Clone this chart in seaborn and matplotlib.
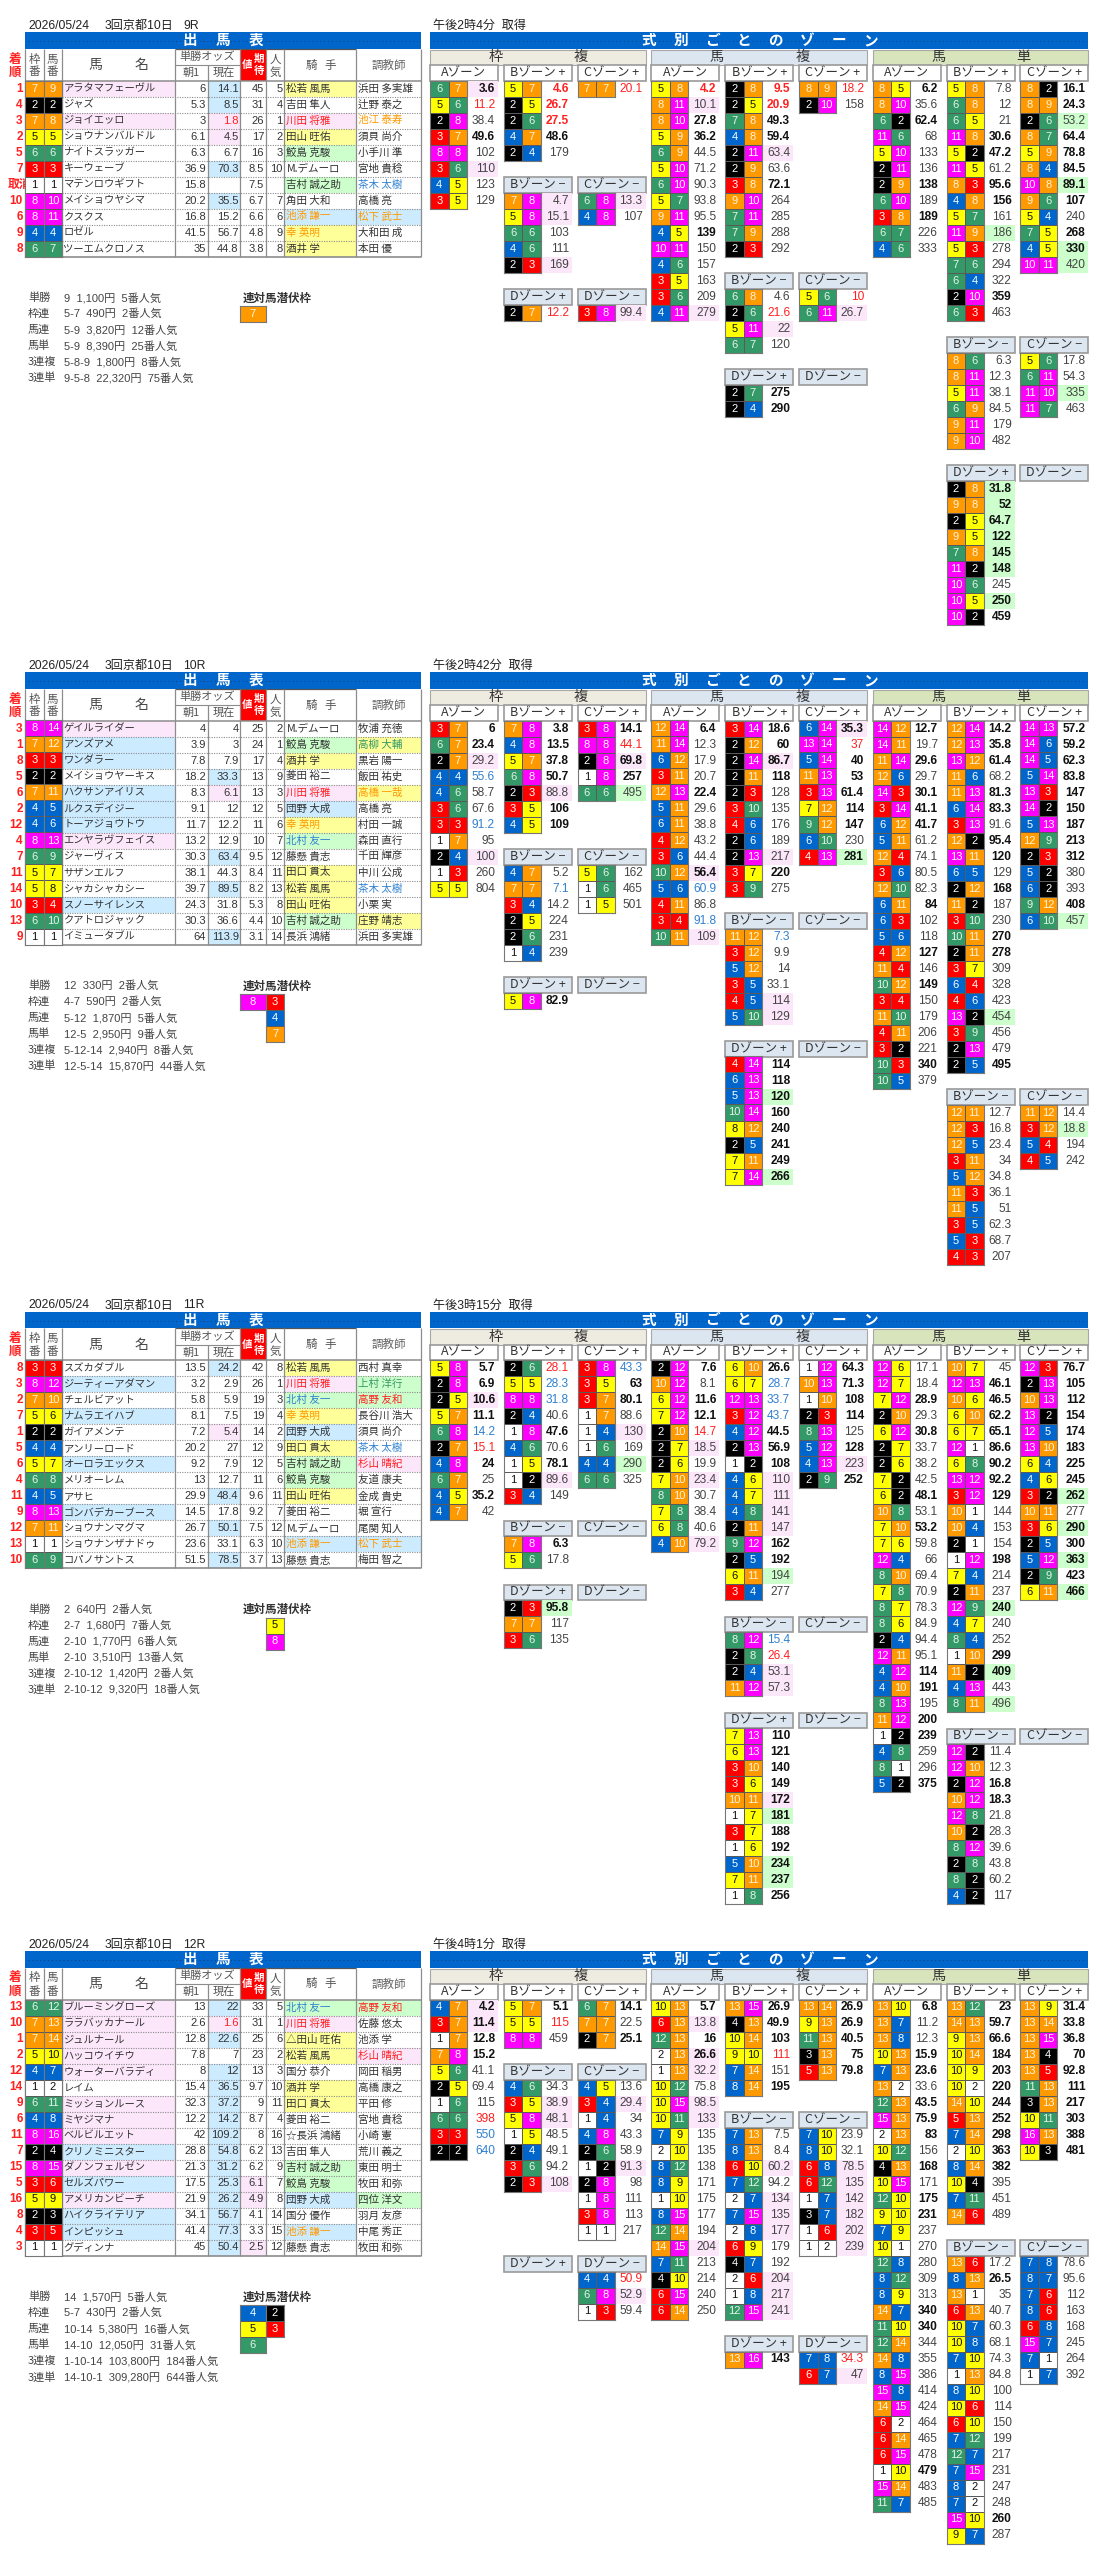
import numpy as np
import matplotlib
matplotlib.use("Agg")
import matplotlib.pyplot as plt
from matplotlib.colors import ListedColormap
from matplotlib.patches import Rectangle
import seaborn as sns

# ---- 9R ----
r9_title = ['2026/05/24', '3回京都10日', '9R']
r9_time = '午後2時4分  取得'
r9_finish = ['1', '4', '3', '2', '5', '7', '取消', '10', '6', '9', '8']
r9_gate = [7, 2, 7, 5, 6, 3, 1, 8, 8, 4, 6]
r9_horse = [9, 2, 8, 5, 6, 3, 1, 10, 11, 4, 7]
r9_name = ['アラタマフェーヴル', 'ジャズ', 'ジョイエッロ', 'ショウナンバルドル', 'ナイトスラッガー', 'キーウェーブ',
           'マテンロウギフト', 'メイショウヤシマ', 'クスクス', 'ロゼル', 'ツーエムクロノス']
r9_name_bg = 'p-p--------'
r9_morning = [6, 5.3, 3, 6.1, 6.3, 36.9, 15.8, 20.2, 16.8, 41.5, 35]
r9_now = [14.1, 8.5, 1.8, 4.5, 6.7, 70.3, '', 35.5, 15.2, 56.7, 44.8]
r9_now_bg = 'bbrp-b-b---'
r9_ev = [45, 31, 26, 17, 16, 8.5, 7.5, 6.7, 6.6, 4.8, 3.8]
r9_ev_bg = '-----------'
r9_pop = [5, 4, 1, 2, 3, 10, '', 7, 6, 9, 8]
r9_jockey = ['松若 風馬', '吉田 隼人', '川田 将雅', '田山 旺佑', '鮫島 克駿', 'M.デムーロ', '吉村 誠之助', '角田 大和', '池添 謙一', '幸 英明', '酒井 学']
r9_jockey_bg = 'y-pyg-g-byy'
r9_jockey_col = '--r-----oo-'
r9_trainer = ['浜田 多実雄', '辻野 泰之', '池江 泰寿', '須貝 尚介', '小手川 準', '宮地 貴稔', '茶木 太樹', '高橋 亮', '松下 武士', '大和田 成', '本田 優']
r9_trainer_bg = '--------b--'
r9_trainer_col = '--o---u-o--'
r9_results = [('単勝', '9  1,100円  5番人気'), ('枠連', '5-7  490円  2番人気'), ('馬連', '5-9  3,820円  12番人気'),
              ('馬単', '5-9  8,390円  25番人気'), ('3連複', '5-8-9  1,800円  8番人気'), ('3連単', '9-5-8  22,320円  75番人気')]
r9_hidden_left = [7]
r9_hidden_right = []

r9_w_a = [(6, 7, 3.6, 'bp'), (5, 6, 11.2, 'r'), (2, 8, 38.4), (3, 7, 49.6, 'b'), (8, 8, 102), (3, 6, 110, 'p'), (4, 5, 123), (3, 5, 129)]
r9_w_bp = [(5, 7, 4.6, 'br'), (2, 5, 26.7, 'br'), (2, 6, 27.5, 'br'), (4, 7, 48.6, 'b'), (2, 4, 179)]
r9_w_cp = [(7, 7, 20.1, 'r')]
r9_w_bm = [(7, 8, 4.7, 'p'), (5, 8, 15.1, 'p'), (6, 6, 103), (4, 6, 111), (2, 3, 169, 'p')]
r9_w_cm = [(6, 8, 13.3, 'p'), (4, 8, 107)]
r9_w_dp = [(2, 7, 12.2, 'r')]
r9_w_dm = [(3, 8, 99.4, 'p')]

r9_f_a = [(5, 8, 4.2, 'br'), (8, 11, 10.1, 'p'), (8, 10, 27.8, 'b'), (5, 9, 36.2, 'b'), (6, 9, 44.5), (5, 10, 71.2), (6, 10, 90.3), (5, 7, 93.8),
          (9, 11, 95.5), (4, 5, 139, 'b'), (10, 11, 150), (4, 6, 157), (3, 5, 163), (3, 6, 209), (4, 11, 279, 'p')]
r9_f_bp = [(2, 8, 9.5, 'br'), (2, 5, 20.9, 'br'), (7, 8, 49.3, 'b'), (4, 8, 59.4, 'b'), (2, 11, 63.4, 'p'), (2, 9, 63.6), (3, 8, 72.1, 'b'),
           (9, 10, 264), (7, 11, 285), (7, 9, 288), (2, 3, 292)]
r9_f_cp = [(8, 9, 18.2, 'r'), (2, 10, 158)]
r9_f_bm = [(6, 8, 4.6), (2, 6, 21.6, 'r'), (5, 11, 22, 'p'), (6, 7, 120)]
r9_f_cm = [(5, 6, 10, 'r'), (6, 11, 26.7, 'p')]
r9_f_dp = [(2, 7, 275, 'b'), (2, 4, 290, 'b')]
r9_f_dm = []

r9_t_a = [(8, 5, 6.2, 'b'), (8, 10, 35.6), (6, 2, 62.4, 'b'), (11, 6, 68), (5, 10, 133), (2, 11, 136), (2, 9, 138, 'b'), (6, 10, 189),
          (3, 8, 189, 'b'), (6, 7, 226), (4, 6, 333)]
r9_t_bp = [(5, 8, 7.8), (6, 8, 12), (6, 5, 21), (11, 8, 30.6, 'b'), (5, 2, 47.2, 'b'), (11, 5, 61.2), (8, 3, 95.6, 'b'), (4, 8, 156, 'b'),
           (5, 7, 161), (11, 9, 186, 'g'), (5, 3, 278), (7, 6, 294), (6, 4, 322), (2, 10, 359, 'b'), (6, 3, 463)]
r9_t_cp = [(8, 2, 16.1, 'b'), (8, 9, 24.3, 'b'), (2, 6, 53.2, 'g'), (8, 7, 64.4, 'b'), (5, 9, 78.8, 'b'), (8, 4, 84.5, 'b'), (10, 8, 89.1, 'gb'),
           (9, 6, 107, 'b'), (5, 4, 240), (7, 5, 268, 'b'), (4, 5, 330, 'gb'), (10, 11, 420, 'g')]
r9_t_bm = [(8, 6, 6.3), (8, 11, 12.3), (5, 11, 38.1), (6, 9, 84.5), (9, 11, 179), (9, 10, 482)]
r9_t_cm = [(5, 6, 17.8), (6, 11, 54.3), (11, 10, 335, 'g'), (11, 7, 463)]
r9_t_dp = [(2, 8, 31.8, 'gb'), (9, 8, 52, 'gb'), (2, 5, 64.7, 'gb'), (9, 5, 122, 'gb'), (7, 8, 145, 'gb'), (11, 2, 148, 'gb'), (10, 6, 245),
           (10, 5, 250, 'gb'), (10, 2, 459, 'b')]
r9_t_dm = []

# ---- 10R ----
r10_title = ['2026/05/24', '3回京都10日', '10R']
r10_time = '午後2時42分  取得'
r10_finish = ['3', '1', '8', '5', '6', '2', '12', '4', '7', '11', '14', '10', '13', '9']
r10_gate = [8, 7, 3, 2, 7, 4, 4, 8, 6, 5, 5, 3, 6, 1]
r10_horse = [14, 12, 3, 2, 11, 5, 6, 13, 9, 7, 8, 4, 10, 1]
r10_name = ['ゲイルライダー', 'アンズアメ', 'ワンダラー', 'メイショウヤーキス', 'ハクサンアイリス', 'ルクスデイジー', 'トーアジョウトウ',
            'エンヤラヴフェイス', 'ジャーヴィス', 'サザンエルフ', 'シャカシャカシー', 'スノーサイレンス', 'クアトロジャック', 'イミュータブル']
r10_name_bg = 'pbb-bbbp---b--'
r10_morning = [4, 3.9, 7.8, 18.2, 8.3, 9.1, 11.7, 13.2, 30.3, 38.1, 39.7, 24.3, 30.3, 64]
r10_now = [4, 3, 7.9, 33.3, 6.1, 12, 12.2, 12.9, 63.4, 44.3, 89.5, 31.8, 36.6, 113.9]
r10_now_bg = '---bp---b-b--b'
r10_ev = [25, 24, 17, 13, 13, 12, 11, 10, 9.5, 8.4, 8.2, 5.3, 4.4, 3.1]
r10_ev_bg = '--------------'
r10_pop = [2, 1, 4, 9, 3, 5, 6, 7, 12, 11, 13, 8, 10, 14]
r10_jockey = ['M.デムーロ', '鮫島 克駿', '酒井 学', '菱田 裕二', '川田 将雅', '団野 大成', '幸 英明', '北村 友一', '藤懸 貴志', '田口 貫太',
              '松若 風馬', '田山 旺佑', '吉村 誠之助', '長浜 鴻緒']
r10_jockey_bg = '-gy-pbyg-yyyg-'
r10_jockey_col = '----r-ou------'
r10_trainer = ['牧浦 充徳', '高柳 大輔', '黒岩 陽一', '飯田 祐史', '高橋 一哉', '高橋 亮', '村田 一誠', '森田 直行', '千田 輝彦', '中川 公成',
               '茶木 太樹', '小栗 実', '庄野 靖志', '浜田 多実雄']
r10_trainer_bg = '-y--y-------y-'
r10_trainer_col = '-g--o-----u---'
r10_results = [('単勝', '12  330円  2番人気'), ('枠連', '4-7  590円  2番人気'), ('馬連', '5-12  1,870円  5番人気'),
               ('馬単', '12-5  2,950円  9番人気'), ('3連複', '5-12-14  2,940円  8番人気'), ('3連単', '12-5-14  15,870円  44番人気')]
r10_hidden_left = [8]
r10_hidden_right = [3, 4, 7]

r10_w_a = [(3, 7, 6, 'b'), (6, 7, 23.4, 'b'), (2, 7, 29.2, 'p'), (4, 4, 55.6, 'u'), (4, 6, 58.7), (3, 6, 67.6), (3, 3, 91.2, 'u'), (1, 7, 95),
           (2, 4, 100, 'p'), (1, 3, 260), (5, 5, 804)]
r10_w_bp = [(7, 8, 3.8, 'b'), (4, 8, 13.5, 'b'), (5, 7, 37.8, 'b'), (6, 8, 50.7, 'b'), (2, 3, 88.8, 'p'), (3, 5, 106, 'b'), (4, 5, 109, 'b')]
r10_w_cp = [(3, 8, 14.1, 'b'), (8, 8, 44.1, 'r'), (2, 8, 69.8, 'pb'), (1, 8, 257, 'b'), (6, 6, 495, 'g')]
r10_w_bm = [(4, 7, 5.2), (7, 7, 7.1, 'u'), (3, 4, 14.2), (2, 5, 224), (2, 6, 231), (1, 4, 239)]
r10_w_cm = [(5, 6, 162), (1, 6, 465), (1, 5, 501)]
r10_w_dp = [(5, 8, 82.9, 'b')]
r10_w_dm = []

r10_f_a = [(12, 14, 6.4, 'b'), (11, 14, 12.3), (6, 12, 17.9), (3, 11, 20.7), (12, 13, 22.4, 'b'), (5, 11, 29.6), (6, 11, 38.8), (4, 12, 43.2),
           (3, 6, 44.4), (10, 12, 56.4, 'pb'), (5, 6, 60.9, 'u'), (4, 11, 86.8), (3, 4, 91.8, 'u'), (10, 11, 109, 'p')]
r10_f_bp = [(3, 14, 18.6, 'b'), (2, 12, 60, 'b'), (2, 14, 86.7, 'pb'), (2, 11, 118, 'b'), (2, 3, 128), (3, 10, 135), (4, 6, 176), (2, 6, 189),
            (2, 13, 217, 'p'), (3, 7, 220, 'b'), (3, 9, 275)]
r10_f_cp = [(6, 14, 35.3, 'pb'), (13, 14, 37, 'r'), (5, 14, 40, 'b'), (11, 13, 53, 'b'), (3, 13, 61.4, 'b'), (7, 12, 114, 'b'), (9, 12, 147, 'b'),
            (6, 10, 230), (4, 13, 281, 'gb')]
r10_f_bm = [(11, 12, 7.3, 'u'), (3, 12, 9.9), (5, 12, 14), (3, 5, 33.1), (4, 5, 114, 'p'), (5, 10, 129, 'p')]
r10_f_cm = []
r10_f_dp = [(4, 14, 114, 'b'), (6, 13, 118, 'b'), (5, 13, 120, 'gb'), (10, 14, 160, 'b'), (8, 12, 240, 'b'), (2, 5, 241, 'b'), (7, 11, 249, 'b'),
            (7, 14, 266, 'gb')]
r10_f_dm = []

r10_t_a = [(14, 12, 12.7, 'b'), (14, 11, 19.7), (11, 14, 29.6, 'b'), (12, 6, 29.7), (14, 3, 30.1, 'b'), (3, 14, 41.1, 'b'), (6, 12, 41.7, 'b'),
           (5, 11, 61.2), (12, 4, 74.1), (3, 6, 80.5), (12, 10, 82.3), (6, 11, 84, 'b'), (6, 3, 102), (5, 6, 118), (4, 12, 127, 'b'), (11, 4, 146),
           (10, 12, 149, 'b'), (3, 4, 150), (11, 10, 179), (4, 11, 206), (3, 2, 221), (10, 3, 340, 'b'), (10, 5, 379)]
r10_t_bp = [(12, 14, 14.2, 'b'), (12, 13, 35.8, 'b'), (13, 12, 61.4, 'b'), (11, 6, 68.2), (11, 13, 81.3, 'b'), (6, 14, 83.3, 'b'), (3, 13, 91.6),
            (12, 2, 95.4, 'b'), (13, 11, 120, 'b'), (6, 5, 129), (2, 12, 168, 'b'), (11, 2, 187), (3, 10, 230), (10, 11, 270, 'b'), (2, 11, 278, 'b'),
            (3, 7, 309), (6, 4, 328), (4, 6, 423), (13, 2, 454, 'g'), (3, 9, 456), (2, 13, 479), (2, 5, 495, 'b')]
r10_t_cp = [(14, 13, 57.2, 'b'), (14, 6, 59.2, 'b'), (14, 5, 62.3, 'b'), (5, 14, 83.8, 'b'), (13, 3, 147, 'b'), (14, 2, 150, 'b'), (5, 13, 187, 'b'),
            (12, 9, 213, 'b'), (2, 3, 312, 'b'), (5, 2, 380), (6, 2, 393), (9, 12, 408, 'b'), (6, 10, 457, 'g')]
r10_t_bm = [(12, 11, 12.7), (12, 3, 16.8), (12, 5, 23.4), (3, 11, 34), (5, 12, 34.8), (11, 3, 36.1), (11, 5, 51), (3, 5, 62.3), (5, 3, 68.7), (4, 3, 207)]
r10_t_cm = [(11, 12, 14.4), (3, 12, 18.8, 'g'), (5, 4, 194), (4, 5, 242)]
r10_t_dp = []
r10_t_dm = []

# ---- 11R ----
r11_title = ['2026/05/24', '3回京都10日', '11R']
r11_time = '午後3時15分  取得'
r11_finish = ['8', '3', '2', '7', '1', '5', '6', '4', '11', '9', '12', '13', '10']
r11_gate = [3, 8, 7, 5, 2, 4, 5, 6, 4, 8, 7, 1, 6]
r11_horse = [3, 12, 10, 6, 2, 4, 7, 8, 5, 13, 11, 1, 9]
r11_name = ['スズカダブル', 'ジーティーアダマン', 'チェルビアット', 'ナムラエイハブ', 'ガイアメンテ', 'アンリーロード', 'オーロラエックス',
            'メリオーレム', 'アサヒ', 'ゴンバデカーブース', 'ショウナンマグマ', 'ショウナンザナドゥ', 'コパノサントス']
r11_name_bg = '-b-b--b--b---'
r11_morning = [13.5, 3.2, 5.8, 8.1, 7.2, 20.2, 9.2, 13, 29.9, 14.5, 26.7, 23.6, 51.5]
r11_now = [24.2, 2.9, 5.9, 7.5, 5.4, 27, 7.9, 12.7, 48.4, 17.8, 50.1, 33.1, 78.5]
r11_now_bg = 'b---p---b-b-b'
r11_ev = [42, 26, 19, 19, 14, 12, 12, 11, 9.6, 9.2, 7.5, 6.3, 3.7]
r11_ev_bg = '-------------'
r11_pop = [8, 1, 3, 4, 2, 9, 5, 6, 11, 7, 12, 10, 13]
r11_jockey = ['松若 風馬', '川田 将雅', '北村 友一', '幸 英明', '団野 大成', '田口 貫太', '吉村 誠之助', '鮫島 克駿', '田山 旺佑', '菱田 裕二',
              'M.デムーロ', '池添 謙一', '藤懸 貴志']
r11_jockey_bg = 'ypgybyggy--b-'
r11_jockey_col = '-ruo-------o-'
r11_trainer = ['西村 真幸', '上村 洋行', '高野 友和', '長谷川 浩大', '須貝 尚介', '茶木 太樹', '杉山 晴紀', '友道 康夫', '金成 貴史', '堀 宣行',
               '尾関 知人', '松下 武士', '梅田 智之']
r11_trainer_bg = '-gg---p----b-'
r11_trainer_col = '-gr--ur----o-'
r11_results = [('単勝', '2  640円  2番人気'), ('枠連', '2-7  1,680円  7番人気'), ('馬連', '2-10  1,770円  6番人気'),
               ('馬単', '2-10  3,510円  13番人気'), ('3連複', '2-10-12  1,420円  2番人気'), ('3連単', '2-10-12  9,320円  18番人気')]
r11_hidden_left = []
r11_hidden_right = [5, 8]

r11_w_a = [(5, 8, 5.7, 'b'), (2, 8, 6.9, 'b'), (2, 5, 10.6, 'pb'), (5, 7, 11.1, 'b'), (6, 8, 14.2, 'u'), (2, 7, 15.1, 'r'), (4, 8, 24, 'b'), (6, 7, 25),
           (4, 5, 35.2, 'b'), (4, 7, 42)]
r11_w_bp = [(2, 6, 28.1, 'r'), (5, 5, 28.3, 'u'), (8, 8, 31.8, 'u'), (2, 4, 40.6), (1, 8, 47.6, 'b'), (4, 6, 70.6), (1, 5, 78.1, 'b'), (1, 2, 89.6, 'p'), (3, 4, 149)]
r11_w_cp = [(3, 8, 43.3, 'u'), (3, 5, 63, 'b'), (3, 7, 80.1, 'b'), (1, 7, 88.6), (1, 4, 130, 'p'), (1, 6, 169), (4, 4, 290, 'g'), (6, 6, 325)]
r11_w_bm = [(7, 8, 6.3, 'b'), (5, 6, 17.8)]
r11_w_cm = []
r11_w_dp = [(2, 3, 95.8, 'gb'), (7, 7, 117), (3, 6, 135)]
r11_w_dm = []

r11_f_a = [(2, 12, 7.6, 'b'), (10, 12, 8.1), (6, 12, 11.6, 'b'), (7, 12, 12.1, 'b'), (2, 10, 14.7, 'r'), (2, 7, 18.5, 'p'), (2, 6, 19.9), (7, 10, 23.4, 'p'),
           (8, 10, 30.7), (7, 8, 38.4), (6, 8, 40.6), (4, 10, 79.2, 'p')]
r11_f_bp = [(6, 10, 26.6, 'b'), (6, 7, 28.7, 'u'), (12, 13, 33.7, 'u'), (3, 12, 43.7, 'u'), (4, 12, 44.5, 'b'), (2, 13, 56.9, 'b'), (1, 2, 108, 'b'),
            (4, 6, 110, 'p'), (4, 7, 111, 'p'), (4, 8, 141, 'p'), (2, 11, 147, 'p'), (9, 12, 162, 'b'), (2, 5, 192, 'b'), (6, 11, 194, 'g'), (3, 4, 277)]
r11_f_cp = [(1, 12, 64.3, 'b'), (10, 13, 71.3, 'b'), (1, 10, 108, 'b'), (2, 3, 114, 'b'), (8, 13, 125), (5, 12, 128, 'b'), (4, 13, 223, 'p'), (2, 9, 252, 'b')]
r11_f_bm = [(8, 12, 15.4, 'u'), (2, 8, 26.4, 'r'), (2, 4, 53.1, 'p'), (11, 12, 57.3, 'p')]
r11_f_cm = []
r11_f_dp = [(7, 13, 110, 'b'), (6, 13, 121, 'b'), (3, 10, 140, 'b'), (3, 6, 149, 'b'), (10, 11, 172, 'pb'), (1, 7, 181, 'gb'), (3, 7, 188, 'b'), (1, 6, 192, 'b'),
            (5, 10, 234, 'gb'), (7, 11, 237, 'gb'), (1, 8, 256, 'b')]
r11_f_dm = []

r11_t_a = [(12, 6, 17.1), (12, 7, 18.4), (7, 12, 28.9, 'b'), (2, 10, 29.3), (6, 12, 30.8, 'b'), (2, 7, 33.7), (2, 6, 38.2), (7, 2, 42.5), (6, 2, 48.1, 'b'),
           (10, 8, 53.1), (7, 10, 53.2, 'b'), (7, 6, 59.8), (12, 4, 66), (8, 10, 69.4), (7, 8, 70.9), (8, 7, 78.3), (8, 6, 84.9), (2, 4, 94.4), (12, 11, 95.1),
           (4, 12, 114, 'b'), (4, 10, 191, 'b'), (8, 13, 195), (11, 12, 200, 'b'), (1, 2, 239, 'b'), (4, 8, 259), (8, 1, 296), (5, 2, 375, 'b')]
r11_t_bp = [(10, 7, 45), (12, 13, 46.1, 'b'), (10, 6, 46.5, 'b'), (6, 10, 62.2, 'b'), (6, 7, 65.1, 'b'), (12, 1, 86.6, 'b'), (6, 8, 90.2, 'b'), (13, 12, 92.2, 'b'),
            (3, 12, 129, 'b'), (10, 1, 144), (10, 4, 153), (2, 1, 154), (1, 12, 198, 'b'), (7, 4, 214), (2, 11, 237), (12, 9, 240, 'gb'), (4, 7, 240), (8, 4, 252),
            (1, 10, 299, 'b'), (11, 2, 409, 'gb'), (4, 13, 443), (8, 11, 496, 'g')]
r11_t_cp = [(12, 3, 76.7, 'b'), (2, 13, 105, 'b'), (10, 13, 112, 'b'), (13, 2, 154, 'b'), (12, 5, 174, 'b'), (13, 10, 183, 'b'), (6, 4, 225, 'b'), (4, 6, 245, 'b'),
            (3, 2, 262, 'gb'), (10, 11, 277), (3, 6, 290, 'gb'), (2, 5, 300, 'b'), (5, 12, 363, 'gb'), (2, 9, 423, 'b'), (6, 11, 466, 'gb')]
r11_t_bm = [(12, 2, 11.4), (12, 10, 12.3), (2, 12, 16.8, 'b'), (10, 12, 18.3, 'b'), (12, 8, 21.8), (10, 2, 28.3), (8, 12, 39.6), (2, 8, 43.8), (8, 2, 60.2), (4, 2, 117)]
r11_t_cm = []
r11_t_dp = []
r11_t_dm = []

# ---- 12R ----
r12_title = ['2026/05/24', '3回京都10日', '12R']
r12_time = '午後4時1分  取得'
r12_finish = ['13', '10', '1', '2', '12', '14', '9', '6', '11', '7', '15', '5', '16', '8', '4', '3']
r12_gate = [6, 7, 7, 5, 4, 1, 6, 4, 8, 2, 8, 3, 5, 2, 3, 1]
r12_horse = [12, 13, 14, 10, 7, 2, 11, 8, 16, 4, 15, 6, 9, 3, 5, 1]
r12_name = ['ブルーミングローズ', 'ララバッカナール', 'ジュルナール', 'ハッコウイチウ', 'ウォーターバラディ', 'レイム', 'ミッションルース', 'ミヤジマナ',
            'ベルビルエット', 'クリノミニスター', 'ダノンフェルゼン', 'セルズパワー', 'アメリカンビーチ', 'ハイクライテリア', 'インピッシュ', 'グディンナ']
r12_name_bg = 'ppppp-pppbpbpbb-'
r12_morning = [13, 2.6, 12.8, 7.8, 8, 15.4, 32.3, 12.2, 42, 28.8, 21.3, 17.5, 21.9, 34.1, 41.4, 45]
r12_now = [22, 1.6, 22.6, 7, 12, 36.5, 37.2, 14.2, 109.2, 54.8, 31.2, 25.3, 26.2, 56.7, 77.3, 50.4]
r12_now_bg = 'brb-bbbbbbbbbbbb'
r12_ev = [33, 31, 25, 23, 13, 9.7, 9, 8.7, 8, 6.2, 6.2, 6.1, 4.9, 4.1, 3.3, 2.5]
r12_ev_bg = '-----------pp--p'
r12_pop = [5, 1, 6, 2, 3, 10, 11, 4, 16, 13, 9, 7, 8, 14, 15, 12]
r12_jockey = ['北村 友一', '川田 将雅', '△田山 旺佑', '松若 風馬', '国分 恭介', '酒井 学', '田口 貫太', '菱田 裕二', '☆長浜 鴻緒', '吉田 隼人',
              '吉村 誠之助', '鮫島 克駿', '団野 大成', '国分 優作', '池添 謙一', '藤懸 貴志']
r12_jockey_bg = 'gpyy-yy---ggb-b-'
r12_jockey_col = 'ur------------o-'
r12_trainer = ['高野 友和', '佐藤 悠太', '池添 学', '杉山 晴紀', '岡田 稲男', '高橋 康之', '平田 修', '宮地 貴稔', '小崎 憲', '荒川 義之', '東田 明士',
               '牧田 和弥', '四位 洋文', '羽月 友彦', '中尾 秀正', '牧田 和弥']
r12_trainer_bg = 'g--p--------g---'
r12_trainer_col = 'r--r------------'
r12_results = [('単勝', '14  1,570円  5番人気'), ('枠連', '5-7  430円  2番人気'), ('馬連', '10-14  5,380円  16番人気'),
               ('馬単', '14-10  12,050円  31番人気'), ('3連複', '1-10-14  103,800円  184番人気'), ('3連単', '14-10-1  309,280円  644番人気')]
r12_hidden_left = [4, 5, 6]
r12_hidden_right = [2, 3]

r12_w_a = [(4, 7, 4.2, 'pb'), (3, 7, 11.4, 'pb'), (1, 7, 12.8, 'b'), (7, 8, 15.2, 'b'), (5, 6, 41.1), (2, 5, 69.4), (1, 6, 115), (6, 6, 398, 'r'), (3, 3, 550, 'u'), (2, 2, 640, 'u')]
r12_w_bp = [(5, 7, 5.1, 'b'), (5, 5, 115, 'r'), (8, 8, 459)]
r12_w_cp = [(6, 7, 14.1, 'b'), (7, 7, 22.5), (2, 7, 25.1, 'b')]
r12_w_bm = [(4, 6, 34.3), (3, 5, 38.9, 'p'), (5, 8, 48.1, 'p'), (1, 5, 48.5), (2, 4, 49.1), (3, 6, 94.2), (2, 3, 108, 'p')]
r12_w_cm = [(4, 5, 13.6), (3, 4, 29.4, 'p'), (1, 4, 34), (4, 8, 43.3), (2, 6, 58.9), (1, 2, 91.3, 'p'), (2, 8, 98), (1, 8, 111), (3, 8, 113), (1, 1, 217)]
r12_w_dp = []
r12_w_dm = [(4, 4, 50.9, 'r'), (6, 8, 52.9, 'p'), (1, 3, 59.4)]

r12_f_a = [(10, 13, 5.7, 'b'), (6, 13, 13.8, 'p'), (12, 13, 16, 'b'), (2, 13, 26.6, 'pb'), (1, 13, 32.2, 'p'), (10, 12, 75.8), (10, 15, 98.5, 'p'), (10, 11, 133, 'p'),
           (7, 9, 135), (2, 10, 135), (8, 12, 138), (8, 9, 171), (1, 10, 175), (8, 15, 177), (12, 14, 194), (14, 15, 204, 'p'), (7, 11, 213), (4, 10, 214), (6, 15, 240), (6, 14, 250)]
r12_f_bp = [(13, 15, 26.9, 'b'), (4, 13, 49.9, 'b'), (10, 14, 103, 'b'), (9, 10, 111, 'r'), (7, 14, 151), (8, 14, 195, 'b')]
r12_f_cp = [(13, 14, 26.9, 'b'), (9, 13, 26.9, 'b'), (11, 13, 40.5, 'b'), (3, 13, 75, 'b'), (5, 13, 79.8, 'b')]
r12_f_bm = [(7, 13, 7.5), (8, 13, 8.4), (6, 10, 60.2, 'p'), (7, 12, 94.2), (2, 7, 134, 'p'), (7, 15, 135, 'p'), (2, 8, 177, 'p'), (6, 9, 179), (4, 7, 192), (2, 6, 204, 'p'),
            (1, 8, 217, 'p'), (12, 15, 241, 'p')]
r12_f_cm = [(7, 10, 23.9), (8, 10, 32.1), (6, 8, 78.5, 'p'), (6, 12, 135, 'p'), (1, 7, 142, 'p'), (3, 7, 182, 'p'), (1, 6, 202, 'p'), (1, 2, 239, 'p')]
r12_f_dp = [(13, 16, 143, 'b')]
r12_f_dm = [(7, 8, 34.3, 'r'), (6, 7, 47, 'p')]

r12_t_a = [(13, 10, 6.8, 'b'), (13, 7, 11.2), (13, 8, 12.3), (10, 13, 15.9, 'b'), (7, 13, 23.6, 'b'), (13, 2, 33.6), (12, 13, 43.5, 'b'), (15, 13, 75.9, 'b'), (2, 13, 83, 'b'),
           (10, 12, 156), (4, 13, 168, 'b'), (10, 15, 171), (12, 10, 175, 'b'), (9, 10, 231, 'b'), (7, 9, 237), (10, 1, 270), (12, 8, 280), (8, 12, 309), (8, 9, 313),
           (14, 7, 340, 'b'), (11, 10, 340, 'b'), (12, 14, 344), (14, 8, 355), (8, 15, 386), (15, 8, 414), (14, 15, 424), (6, 2, 464), (6, 14, 465), (6, 15, 478),
           (1, 10, 479, 'b'), (15, 14, 483), (11, 7, 485)]
r12_t_bp = [(13, 12, 23, 'b'), (14, 13, 59.7, 'b'), (9, 13, 66.6, 'b'), (10, 14, 184, 'b'), (10, 9, 203, 'b'), (10, 2, 220, 'b'), (14, 10, 244, 'b'), (5, 13, 252, 'b'),
            (7, 14, 298, 'b'), (2, 10, 363, 'b'), (8, 14, 382, 'b'), (10, 4, 395), (7, 11, 451), (14, 6, 489)]
r12_t_cp = [(13, 9, 31.4, 'b'), (13, 14, 33.8, 'b'), (13, 15, 36.8, 'b'), (13, 4, 70, 'b'), (13, 5, 92.8, 'b'), (11, 13, 111, 'b'), (3, 13, 217, 'b'), (10, 11, 303, 'b'),
            (16, 13, 388, 'b'), (10, 3, 481, 'b')]
r12_t_bm = [(13, 6, 17.2), (8, 13, 26.5, 'b'), (13, 1, 35), (6, 13, 40.7), (10, 7, 60.3), (10, 8, 68.1), (7, 10, 74.3), (1, 13, 84.8), (8, 10, 100), (10, 6, 114), (6, 10, 150),
            (7, 12, 199), (12, 7, 217), (7, 15, 231), (8, 2, 247), (7, 2, 248), (15, 10, 260, 'b'), (9, 7, 287)]
r12_t_cm = [(7, 8, 78.6), (8, 7, 95.6), (7, 6, 112), (8, 6, 163), (6, 8, 168), (15, 7, 245), (7, 1, 264), (1, 7, 392)]
r12_t_dp = []
r12_t_dm = []

bar_left = ['出', '馬', '表']
bar_right = ['式', '別', 'ご', 'と', 'の', 'ゾ', 'ー', 'ン']
section_chars = [('枠', '複'), ('馬', '複'), ('馬', '単')]

# ---- page layout, in pixels ----
W, H = 1093, 2560
PANEL_TOPS = [0, 640, 1279.5, 1919]
ROW = 16
TOP = 80.5
COLS = [25, 43.7, 62, 175.3, 207.6, 240, 265.7, 284.4, 355.7, 421]
ZONE_X0, ZONE_STEP, ZONE_W, CELLS_W = 430, 73.8, 68, 37

FRAME = ['#FFFFFF', '#000000', '#FF0000', '#0066CC', '#FFFF00', '#339966', '#FF9900', '#FF00FF']
FRAME_TEXT = ['#111111', '#FFFFFF', '#FFFFFF', '#FFFFFF', '#111111', '#E8F4EC', '#FFF4E0', '#FFFFFF']
BG = {'p': '#FCE6FA', 'b': '#CCEBFF', 'y': '#FFFF99', 'g': '#CCFFCC', 'r': '#FCE6FA', '-': None}
INK = {'r': '#FF2020', 'o': '#FF9900', 'u': '#2F80D0', 'g': '#339966', '-': '#333333'}
SECTION_BG = ['#EEECE1', '#DCE6F1', '#D7E4BC']
GRID = '#8C8C8C'
NUM = ['Liberation Sans', 'Noto Sans CJK JP']
JP = ['Noto Sans CJK JP', 'DejaVu Sans']

sns.set_style("white")
plt.rcParams['font.family'] = JP

fig = plt.figure(figsize=(W / 100, H / 100), dpi=100)
base = fig.add_axes([0, 0, 1, 1])
base.set_xlim(0, W)
base.set_ylim(H, 0)
base.axis('off')
cmap = ListedColormap(FRAME)


def box(x0, y0, x1, y1, color, edge='none', lw=0):
    base.add_patch(Rectangle((x0, y0), x1 - x0, y1 - y0, facecolor=color, edgecolor=edge, linewidth=lw, zorder=1))


def label(x, y, s, size=8, ha='center', color='#222222', weight='normal', family=JP):
    base.text(x, y, str(s), fontsize=size, ha=ha, va='center', color=color, fontweight=weight, family=family, zorder=4)


# frame coloured cells always go through a small heatmap
def frame_cells(x, y, w, frames, labels, size=8):
    h = ROW * len(frames)
    ax = fig.add_axes([x / W, 1 - (y + h) / H, w / W, h / H])
    vals = np.array(frames, dtype=float)
    sns.heatmap(vals, ax=ax, cmap=cmap, vmin=0.5, vmax=8.5, cbar=False, annot=np.array(labels), fmt='',
                annot_kws={'fontsize': size, 'family': NUM}, linewidths=0.5, linecolor='#5A5A5A',
                xticklabels=False, yticklabels=False)
    colors = [FRAME_TEXT[int(f) - 1] for f in vals.ravel()]
    for t, c in zip(ax.texts, colors):
        t.set_color(c)
    for s in ax.spines.values():
        s.set_visible(True)
        s.set_color('#777777')
        s.set_linewidth(0.8)


def bar(x0, x1, y, chars, xs):
    box(x0, y + 32, x1, y + 48.5, '#0066CC')
    base.hlines(y + 41, x0 + 3, x1 - 3, colors='#0A3F7A', linestyles=(0, (1, 3)), linewidth=0.7, zorder=2)
    for c, cx in zip(chars, xs):
        label(cx, y + 40, c, size=10.5, color='white', weight='bold')


def race_table(y, r):
    n = len(r['horse'])
    bottom = y + TOP + ROW * n
    label(28, y + 26, r['title'][0], size=8.7, ha='left', family=NUM)
    label(104.7, y + 26, r['title'][1], size=8.7, ha='left', family=NUM)
    label(183, y + 26, r['title'][2], size=8.7, ha='left', family=NUM)
    bar(COLS[0], COLS[-1], y, bar_left, [190, 223, 256])

    # header cells
    box(COLS[5], y + 48.5, COLS[6], y + TOP, '#FF0000')
    label(15, y + 59, '着', size=9, color='#FF2020', weight='bold')
    label(15, y + 72, '順', size=9, color='#FF2020', weight='bold')
    for cx, (a, b) in zip([34.4, 52.8, 275], [('枠', '番'), ('馬', '番'), ('人', '気')]):
        label(cx, y + 59, a, size=8.3, color='#555555')
        label(cx, y + 72, b, size=8.3, color='#555555')
    label(95, y + 65, '馬', size=10, color='#444444')
    label(141.7, y + 65, '名', size=10, color='#444444')
    label(207.6, y + 57, '単勝オッズ', size=8, color='#555555')
    label(191.5, y + 73, '朝1', size=8, color='#555555')
    label(223.8, y + 73, '現在', size=8, color='#555555')
    label(247, y + 65, '値', size=7.5, color='white', weight='bold')
    label(258.7, y + 59, '期', size=7.5, color='white', weight='bold')
    label(258.7, y + 71, '待', size=7.5, color='white', weight='bold')
    label(311, y + 65, '騎', size=8.3, color='#555555')
    label(330, y + 65, '手', size=8.3, color='#555555')
    label(389, y + 65, '調教師', size=8.3, color='#666666')

    # rows
    for i in range(n):
        top = y + TOP + ROW * i
        mid = top + ROW / 2
        for x0, x1, key in [(COLS[2], COLS[3], 'name_bg'), (COLS[4], COLS[5], 'now_bg'), (COLS[5], COLS[6], 'ev_bg'),
                            (COLS[7], COLS[8], 'jockey_bg'), (COLS[8], COLS[9], 'trainer_bg')]:
            c = BG[r[key][i]]
            if c:
                box(x0, top, x1, top + ROW, c)
        fin = r['finish'][i]
        if fin == '取消':
            label(8, mid, fin, size=8.5, ha='left', color='#FF2020', weight='bold')
        else:
            label(22.7, mid, fin, size=8.5, ha='right', color='#FF2020', weight='bold', family=NUM)
        label(63.5, mid, r['name'][i], size=7.4, ha='left', color='#333333')
        label(206, mid, r['morning'][i], ha='right', family=NUM, color='#333333')
        now_col = '#FF2020' if r['now_bg'][i] == 'r' else '#333333'
        label(238.7, mid, r['now'][i], ha='right', family=NUM, color=now_col)
        label(264, mid, r['ev'][i], ha='right', family=NUM, color='#333333')
        label(282.7, mid, r['pop'][i], ha='right', family=NUM, color='#333333')
        label(286.5, mid, r['jockey'][i], size=7.6, ha='left', color=INK[r['jockey_col'][i]])
        label(358, mid, r['trainer'][i], size=7.6, ha='left', color=INK[r['trainer_col'][i]])

    # rules
    base.hlines([y + TOP + ROW * i for i in range(1, n)], COLS[2], COLS[-1], colors=GRID, linestyles=(0, (1, 1.2)), linewidth=0.8, zorder=3)
    base.hlines([y + 48.5], COLS[3], COLS[8], colors='#555555', linewidth=0.9, zorder=3)
    base.hlines([y + TOP], COLS[0], COLS[-1], colors=GRID, linewidth=1.1, zorder=3)
    base.hlines([bottom], COLS[0], COLS[-1], colors=GRID, linewidth=1.2, zorder=3)
    base.hlines([y + 65], COLS[3], COLS[5], colors=GRID, linewidth=0.8, zorder=3)
    # the odds column divider stops under the 単勝オッズ header
    full_rules = [c for c in COLS if c != COLS[4]]
    base.vlines(full_rules, y + 48.5, bottom, colors=GRID, linewidth=0.9, zorder=3)
    base.vlines([COLS[4]], y + 65, bottom, colors=GRID, linewidth=0.9, zorder=3)

    frame_cells(COLS[0], y + TOP, COLS[1] - COLS[0], [[g] for g in r['gate']], [[str(g)] for g in r['gate']])
    frame_cells(COLS[1], y + TOP, COLS[2] - COLS[1], [[g] for g in r['gate']], [[str(h)] for h in r['horse']])

    # payouts below the table
    res_y = bottom + 41.5
    for i, (a, b) in enumerate(r['results']):
        label(28, res_y + ROW * i, a, size=8, ha='left', color='#444444')
        label(64, res_y + ROW * i, b, size=8, ha='left', color='#444444', family=NUM)
    label(243, res_y, '連対馬潜伏枠', size=8.3, ha='left', color='#333333', weight='bold')
    if r['hidden_left']:
        frame_cells(COLS[5], res_y + 8, COLS[6] - COLS[5], [[g] for g in r['hidden_left']], [[str(g)] for g in r['hidden_left']])
    if r['hidden_right']:
        frame_cells(COLS[6], res_y + 8, COLS[7] - COLS[6], [[g] for g in r['hidden_right']], [[str(g)] for g in r['hidden_right']])


def zone_block(x, y, title, lower, rows, gate_of):
    head = y - 15.5
    box(x, head, x + ZONE_W, y, '#DCE6F1' if lower else 'white', edge='#9A9A9A', lw=1.2)
    label(x + ZONE_W / 2, head + 7.5, title, size=9, color='#333333')
    if not rows:
        return
    frames, labels = [], []
    for i, row in enumerate(rows):
        a, b, v = row[:3]
        flag = row[3] if len(row) > 3 else ''
        frames.append([gate_of(a), gate_of(b)])
        labels.append([str(a), str(b)])
        mid = y + ROW * i + ROW / 2
        if 'p' in flag or 'g' in flag:
            box(x + CELLS_W, y + ROW * i, x + ZONE_W, y + ROW * (i + 1), BG['p' if 'p' in flag else 'g'])
        col = INK['r'] if 'r' in flag else INK['u'] if 'u' in flag else ('#111111' if 'b' in flag else '#444444')
        label(x + ZONE_W - 3, mid, v, size=8.6, ha='right', color=col, family=NUM,
              weight='bold' if 'b' in flag else 'normal')
    frame_cells(x, y, CELLS_W, frames, labels)


def zone_group(y, first_col, zones, gate_of):
    a, bp, cp, bm, cm, dp, dm = zones
    xs = [ZONE_X0 + ZONE_STEP * (first_col + k) for k in range(3)]
    top = y + TOP
    zone_block(xs[0], top, 'Aゾーン', False, a, gate_of)
    zone_block(xs[1], top, 'Bゾーン +', False, bp, gate_of)
    zone_block(xs[2], top, 'Cゾーン +', False, cp, gate_of)
    r_b = max(len(bp), len(cp)) + 1
    zone_block(xs[1], top + ROW * (r_b + 1), 'Bゾーン −', True, bm, gate_of)
    zone_block(xs[2], top + ROW * (r_b + 1), 'Cゾーン −', True, cm, gate_of)
    r_d = r_b + 1 + max(len(bm), len(cm)) + 1
    # the sheet is cut at the bottom of each race, D headers past it are not shown
    if TOP + ROW * r_d + 15 < 640:
        zone_block(xs[1], top + ROW * (r_d + 1), 'Dゾーン +', True, dp, gate_of)
        zone_block(xs[2], top + ROW * (r_d + 1), 'Dゾーン −', True, dm, gate_of)


def race_zones(y, r, waku, fuku, tan):
    label(433, y + 26, r['time'], size=8.7, ha='left', family=NUM)
    right = ZONE_X0 + ZONE_STEP * 8 + ZONE_W
    bar(ZONE_X0, right, y, bar_right, [649 + 31.7 * i for i in range(8)])
    for g, (c0, c1) in enumerate(section_chars):
        x0 = ZONE_X0 + ZONE_STEP * 3 * g
        x1 = x0 + ZONE_STEP * 2 + ZONE_W
        box(x0, y + 49.5, x1, y + 65, SECTION_BG[g], edge='#A8A8A8', lw=0.8)
        label(x0 + 65.5, y + 57, c0, size=10.2, color='#333333')
        label(x0 + 151, y + 57, c1, size=10.2, color='#333333')
    gates = dict(zip(r['horse'], r['gate']))
    zone_group(y, 0, waku, lambda v: v)
    zone_group(y, 3, fuku, lambda v: gates[v])
    zone_group(y, 6, tan, lambda v: gates[v])


def pack(prefix):
    g = globals()
    keys = ['title', 'time', 'finish', 'gate', 'horse', 'name', 'name_bg', 'morning', 'now', 'now_bg', 'ev', 'ev_bg', 'pop',
            'jockey', 'jockey_bg', 'jockey_col', 'trainer', 'trainer_bg', 'trainer_col', 'results', 'hidden_left', 'hidden_right']
    return {k: g[f'{prefix}_{k}'] for k in keys}


def zones_of(prefix, kind):
    g = globals()
    return [g[f'{prefix}_{kind}_{z}'] for z in ['a', 'bp', 'cp', 'bm', 'cm', 'dp', 'dm']]


for top, prefix in zip(PANEL_TOPS, ['r9', 'r10', 'r11', 'r12']):
    race = pack(prefix)
    race_table(top, race)
    race_zones(top, race, zones_of(prefix, 'w'), zones_of(prefix, 'f'), zones_of(prefix, 't'))

fig.savefig('out.png', dpi=100, facecolor='white')
plt.close(fig)
